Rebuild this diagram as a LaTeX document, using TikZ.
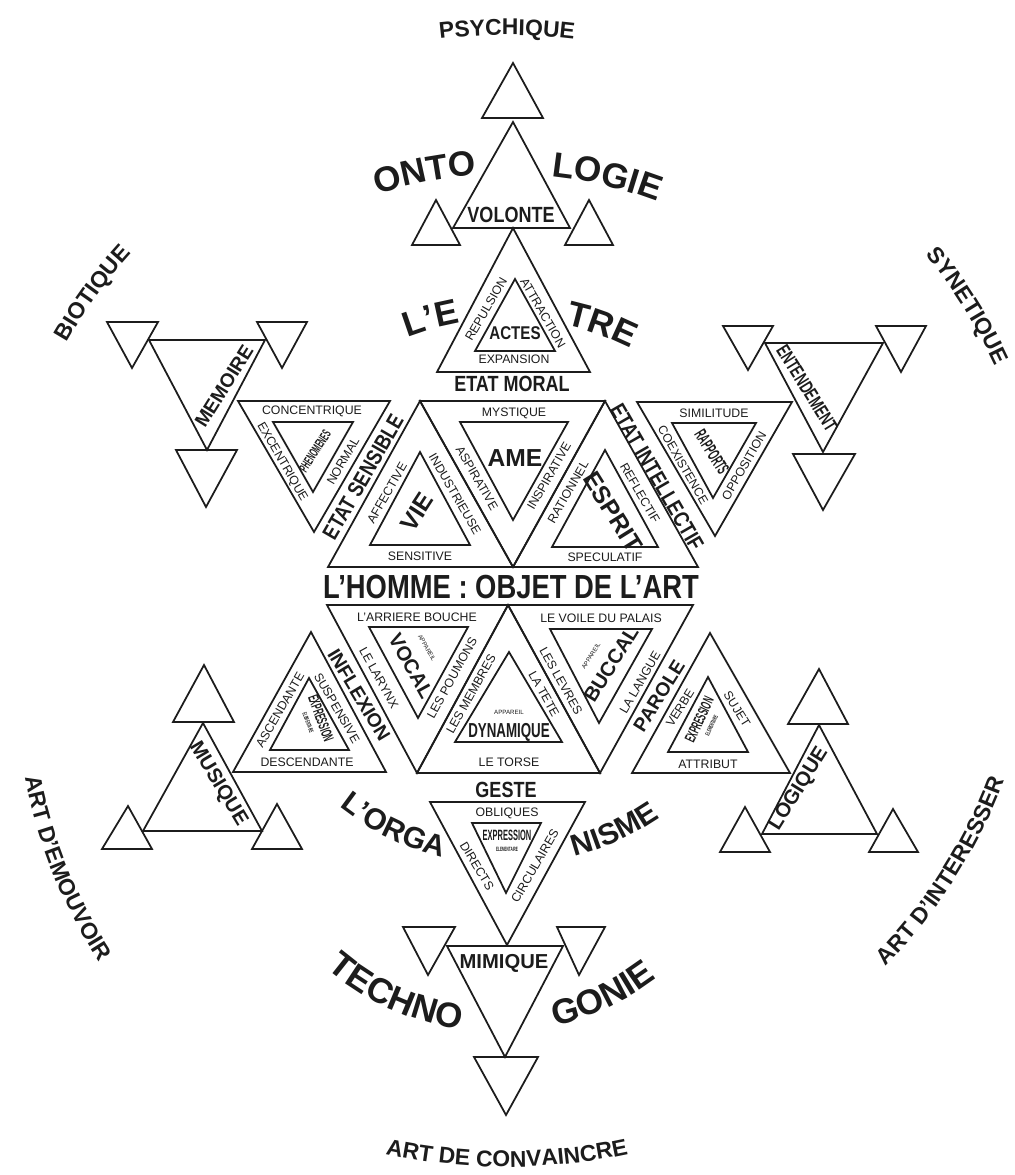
\documentclass[tikz,border=0pt]{standalone}
\usepackage{fontspec}
\setmainfont{Liberation Sans}
\newfontfamily\condfont[FakeStretch=0.82]{Liberation Sans}
\newfontfamily\narrowfont[FakeStretch=0.66]{Liberation Sans}
\newfontfamily\thinfont[FakeStretch=0.5]{Liberation Sans}
\usetikzlibrary{decorations.text}
\definecolor{ink}{HTML}{1C1C1C}
\newcommand{\arcbig}{\bfseries\fontsize{20}{20}\selectfont}
\newcommand{\arcmid}{\bfseries\fontsize{17}{17}\selectfont}
\newcommand{\arcrim}{\bfseries\fontsize{13}{13}\selectfont}
\tikzset{tri/.style={draw=ink, line width=1pt, line join=miter}}
\tikzset{arched/.style={decorate, decoration={text along path, text align=center, text color=ink}}}

\begin{document}
\begin{tikzpicture}[
    x=0.2mm, y=0.2mm,
    word/.style={font=\fontsize{7}{8}\selectfont, text=ink, inner sep=0pt},
    speck/.style={font=\fontsize{3.5}{4}\selectfont, text=ink, inner sep=0pt},
    title/.style={font=\condfont\bfseries\fontsize{12.5}{13}\selectfont, text=ink, inner sep=0pt},
    heavy/.style={font=\bfseries\fontsize{11.5}{12}\selectfont, text=ink, inner sep=0pt},
    slim/.style={font=\narrowfont\bfseries\fontsize{11}{12}\selectfont, text=ink, inner sep=0pt},
    thin/.style={font=\thinfont\bfseries\fontsize{8.5}{9}\selectfont, text=ink, inner sep=0pt, align=center}
  ]

  % page
  \path[fill=white, use as bounding box] (0,0) rectangle (1014,-1175);
  \coordinate (hub) at (507,-594);
  \coordinate (foot) at (498,-770);
  \coordinate (west) at (524,-683);

  % --- ONTOLOGIE (top) ---
  \draw[tri] (482,-118) -- (543,-118) -- (513,-63) -- cycle;
  \draw[tri] (453,-228) -- (570,-228) -- (513,-122) -- cycle;
  \draw[tri] (412,-245) -- (460,-245) -- (436,-200) -- cycle;
  \draw[tri] (565,-245) -- (613,-245) -- (589,-200) -- cycle;
  \draw[tri] (437,-372) -- (590,-372) -- (513,-228) -- cycle;
  \draw[tri] (475,-351) -- (555,-351) -- (515,-279) -- cycle;

  \node (volonte) [title] at (511,-215) {VOLONTE};
  \node (actes) [title, font=\condfont\bfseries\fontsize{10.5}{11}\selectfont] at (515,-333) {ACTES};
  \node (expansion) [word] at (514,-359) {EXPANSION};
  \node (repulsion) [word, rotate=60] at (486,-309) {REPULSION};
  \node (attraction) [word, rotate=-60] at (543,-313) {ATTRACTION};
  \node (moral) [title] at (512,-384) {ETAT MORAL};

  % --- upper band ---
  \draw[tri] (238,-401) -- (390,-401) -- (314,-532) -- cycle;
  \draw[tri] (273,-422) -- (353,-422) -- (313,-492) -- cycle;
  \draw[tri] (328,-567) -- (513,-567) -- (420,-401) -- cycle;
  \draw[tri] (370,-545) -- (470,-545) -- (420,-452) -- cycle;
  \draw[tri] (420,-401) -- (605,-401) -- (513,-567) -- cycle;
  \draw[tri] (460,-422) -- (568,-422) -- (513,-520) -- cycle;
  \draw[tri] (513,-567) -- (698,-567) -- (605,-401) -- cycle;
  \draw[tri] (552,-547) -- (658,-547) -- (605,-450) -- cycle;
  \draw[tri] (637,-402) -- (792,-402) -- (715,-536) -- cycle;
  \draw[tri] (672,-423) -- (756,-423) -- (713,-498) -- cycle;

  \node (concentrique) [word] at (312,-411) {CONCENTRIQUE};
  \node (excentrique) [word, rotate=-60] at (282,-462) {EXCENTRIQUE};
  \node (normal) [word, rotate=60] at (343,-461) {NORMAL};
  \node (phenomenes) [thin, font=\thinfont\bfseries\fontsize{7.5}{8}\selectfont, rotate=57] at (315,-451) {PHENOMENES};
  \node (sensible) [title, rotate=60] at (363,-477) {ETAT SENSIBLE};
  \node (affective) [word, rotate=60] at (387,-493) {AFFECTIVE};
  \node (vie) [heavy, font=\bfseries\fontsize{14}{14}\selectfont, rotate=57] at (417,-512) {VIE};
  \node (industrieuse) [word, rotate=-60] at (455,-494) {INDUSTRIEUSE};
  \node (sensitive) [word] at (420,-556) {SENSITIVE};
  \node (mystique) [word] at (514,-413) {MYSTIQUE};
  \node (ame) [heavy, font=\bfseries\fontsize{14}{14}\selectfont] at (515,-458) {AME};
  \node (aspirative) [word, rotate=-60] at (477,-478) {ASPIRATIVE};
  \node (inspirative) [word, rotate=60] at (549,-476) {INSPIRATIVE};
  \node (rationnel) [word, rotate=60] at (568,-492) {RATIONNEL};
  \node (esprit) [heavy, font=\bfseries\fontsize{14}{14}\selectfont, rotate=-58] at (613,-512) {ESPRIT};
  \node (reflectif) [word, rotate=-60] at (640,-493) {REFLECTIF};
  \node (speculatif) [word] at (605,-557) {SPECULATIF};
  \node (intellectif) [title, rotate=-60] at (657,-477) {ETAT INTELLECTIF};
  \node (similitude) [word] at (714,-413) {SIMILITUDE};
  \node (coexistence) [word, rotate=-60] at (683,-465) {COEXISTENCE};
  \node (opposition) [word, rotate=60] at (744,-466) {OPPOSITION};
  \node (rapports) [thin, font=\thinfont\bfseries\fontsize{10}{10}\selectfont, rotate=-58] at (712,-452) {RAPPORTS};

  % --- MEMOIRE ---
  \draw[tri] (149,-340) -- (265,-340) -- (207,-450) -- cycle;
  \draw[tri] (107,-322) -- (158,-322) -- (132,-368) -- cycle;
  \draw[tri] (257,-322) -- (307,-322) -- (282,-368) -- cycle;
  \draw[tri] (176,-450) -- (237,-450) -- (206,-507) -- cycle;
  \node (memoire) [heavy, font=\bfseries\fontsize{11}{12}\selectfont, rotate=58] at (224,-386) {MEMOIRE};

  % --- ENTENDEMENT ---
  \draw[tri] (765,-343) -- (883,-343) -- (823,-452) -- cycle;
  \draw[tri] (723,-326) -- (773,-326) -- (748,-370) -- cycle;
  \draw[tri] (876,-326) -- (926,-326) -- (901,-372) -- cycle;
  \draw[tri] (793,-454) -- (855,-454) -- (823,-510) -- cycle;
  \node (entendement) [slim, rotate=-58] at (807,-388) {ENTENDEMENT};

  % centre line
  \node (homme) [title, font=\condfont\bfseries\fontsize{19}{19}\selectfont] at (511,-587) {L’HOMME : OBJET DE L’ART};

  % --- lower band ---
  \draw[tri] (233,-772) -- (386,-772) -- (311,-632) -- cycle;
  \draw[tri] (270,-750) -- (349,-750) -- (309,-678) -- cycle;
  \draw[tri] (327,-605) -- (508,-605) -- (417,-773) -- cycle;
  \draw[tri] (369,-627) -- (468,-627) -- (418,-718) -- cycle;
  \draw[tri] (417,-773) -- (600,-773) -- (508,-605) -- cycle;
  \draw[tri] (455,-742) -- (562,-742) -- (509,-652) -- cycle;
  \draw[tri] (508,-605) -- (693,-605) -- (600,-773) -- cycle;
  \draw[tri] (550,-629) -- (652,-629) -- (599,-723) -- cycle;
  \draw[tri] (632,-773) -- (790,-773) -- (710,-633) -- cycle;
  \draw[tri] (668,-752) -- (748,-752) -- (708,-677) -- cycle;

  \node (arriere) [word] at (417,-617) {L’ARRIERE BOUCHE};
  \node (larynx) [word, rotate=-61] at (379,-678) {LE LARYNX};
  \node (vocal) [heavy, rotate=-61] at (411,-666) {VOCAL};
  \node (appvocal) [speck, rotate=-61] at (427,-648) {APPAREIL};
  \node (poumons) [word, rotate=61] at (452,-678) {LES POUMONS};
  \node (membres) [word, rotate=61] at (471,-694) {LES MEMBRES};
  \node (appdyn) [speck] at (509,-712) {APPAREIL};
  \node (dynamique) [slim, font=\narrowfont\bfseries\fontsize{11.5}{12}\selectfont] at (509,-732) {DYNAMIQUE};
  \node (tete) [word, rotate=-61] at (544,-694) {LA TETE};
  \node (torse) [word] at (509,-762) {LE TORSE};
  \node (voile) [word] at (601,-618) {LE VOILE DU PALAIS};
  \node (levres) [word, rotate=-61] at (561,-681) {LES LEVRES};
  \node (buccal) [heavy, rotate=58] at (611,-664) {BUCCAL};
  \node (appbuccal) [speck, rotate=58] at (591,-656) {APPAREIL};
  \node (langue) [word, rotate=60] at (640,-682) {LA LANGUE};
  \node (parole) [heavy, font=\bfseries\fontsize{11}{12}\selectfont, rotate=58] at (659,-696) {PAROLE};
  \node (verbe) [word, rotate=58] at (680,-708) {VERBE};
  \node (sujet) [word, rotate=-58] at (737,-709) {SUJET};
  \node (exparole) [thin, rotate=65] at (704,-722) {EXPRESSION\\[-3pt]{\fontsize{3.5}{4}\selectfont ELEMENTAIRE}};
  \node (attribut) [word] at (708,-764) {ATTRIBUT};
  \node (inflexion) [heavy, font=\bfseries\fontsize{11}{12}\selectfont, rotate=-59] at (359,-695) {INFLEXION};
  \node (suspensive) [word, rotate=-60] at (337,-708) {SUSPENSIVE};
  \node (ascendante) [word, rotate=60] at (280,-710) {ASCENDANTE};
  \node (exinflex) [thin, rotate=-70] at (316,-720) {EXPRESSION\\[-3pt]{\fontsize{3.5}{4}\selectfont ELEMENTAIRE}};
  \node (descendante) [word] at (307,-762) {DESCENDANTE};

  % --- MUSIQUE ---
  \draw[tri] (143,-831) -- (262,-831) -- (203,-723) -- cycle;
  \draw[tri] (173,-722) -- (234,-722) -- (204,-665) -- cycle;
  \draw[tri] (102,-849) -- (152,-849) -- (128,-806) -- cycle;
  \draw[tri] (252,-849) -- (302,-849) -- (277,-804) -- cycle;
  \node (musique) [heavy, rotate=-59] at (218,-784) {MUSIQUE};

  % --- LOGIQUE ---
  \draw[tri] (762,-834) -- (877,-834) -- (819,-725) -- cycle;
  \draw[tri] (788,-724) -- (848,-724) -- (819,-669) -- cycle;
  \draw[tri] (720,-852) -- (770,-852) -- (745,-807) -- cycle;
  \draw[tri] (869,-852) -- (918,-852) -- (893,-809) -- cycle;
  \node (logique) [heavy, rotate=58] at (799,-789) {LOGIQUE};

  % --- GESTE / MIMIQUE ---
  \draw[tri] (430,-802) -- (585,-802) -- (507,-945) -- cycle;
  \draw[tri] (472,-823) -- (541,-823) -- (506,-893) -- cycle;
  \draw[tri] (447,-946) -- (563,-946) -- (505,-1057) -- cycle;
  \draw[tri] (403,-927) -- (455,-927) -- (428,-975) -- cycle;
  \draw[tri] (557,-927) -- (605,-927) -- (579,-975) -- cycle;
  \draw[tri] (474,-1057) -- (538,-1057) -- (506,-1115) -- cycle;

  \node (geste) [title] at (506,-790) {GESTE};
  \node (obliques) [word] at (507,-813) {OBLIQUES};
  \node (exgeste) [thin] at (507,-841) {EXPRESSION\\[-3pt]{\fontsize{3.5}{4}\selectfont ELEMENTAIRE}};
  \node (directs) [word, rotate=-59] at (477,-866) {DIRECTS};
  \node (circulaires) [word, rotate=60] at (535,-866) {CIRCULAIRES};
  \node (mimique) [heavy] at (504,-963) {MIMIQUE};

  % --- arched words round the centre ---
  \path[arched, decoration={text={|\arcbig|ONTO}}] ([shift={(112:420)}]hub) arc[start angle=112, end angle=90, radius=420];
  \path[arched, decoration={text={|\arcbig|LOGIE}}] ([shift={(89:420)}]hub) arc[start angle=89, end angle=64, radius=420];
  \path[arched, decoration={text={|\arcbig|L’E}}] ([shift={(118:275)}]hub) arc[start angle=118, end angle=93, radius=275];
  \path[arched, decoration={text={|\arcbig|TRE}}] ([shift={(84:275)}]hub) arc[start angle=84, end angle=57, radius=275];
  \path[arched, decoration={text={|\arcmid|L’ORGA}}] ([shift={(226:271)}]hub) arc[start angle=226, end angle=262, radius=271];
  \path[arched, decoration={text={|\arcmid|NISME}}] ([shift={(279:271)}]hub) arc[start angle=279, end angle=310, radius=271];
  \path[arched, decoration={text={|\arcbig|TECHNO}}] ([shift={(225:262)}]foot) arc[start angle=225, end angle=266, radius=262];
  \path[arched, decoration={text={|\arcbig|GONIE}}] ([shift={(278:262)}]foot) arc[start angle=278, end angle=312, radius=262];

  % --- outer ring ---
  \path[arched, decoration={text={|\arcrim|PSYCHIQUE}}] ([shift={(101:559)}]hub) arc[start angle=101, end angle=79, radius=559];
  \path[arched, decoration={text={|\arcrim|BIOTIQUE}}] ([shift={(155:507)}]hub) arc[start angle=155, end angle=133, radius=507];
  \path[arched, decoration={text={|\arcrim|SYNETIQUE}}] ([shift={(43:539)}]hub) arc[start angle=43, end angle=21, radius=539];
  \path[arched, decoration={text={|\arcrim|ART D’EMOUVOIR}}] ([shift={(186:508)}]west) arc[start angle=186, end angle=218, radius=508];
  \path[arched, decoration={text={|\arcrim|ART D’INTERESSER}}] ([shift={(312:531)}]hub) arc[start angle=312, end angle=343, radius=531];
  \path[arched, decoration={text={|\arcrim|ART DE CONVAINCRE}}] ([shift={(254:573)}]hub) arc[start angle=254, end angle=286, radius=573];

\end{tikzpicture}
\end{document}
